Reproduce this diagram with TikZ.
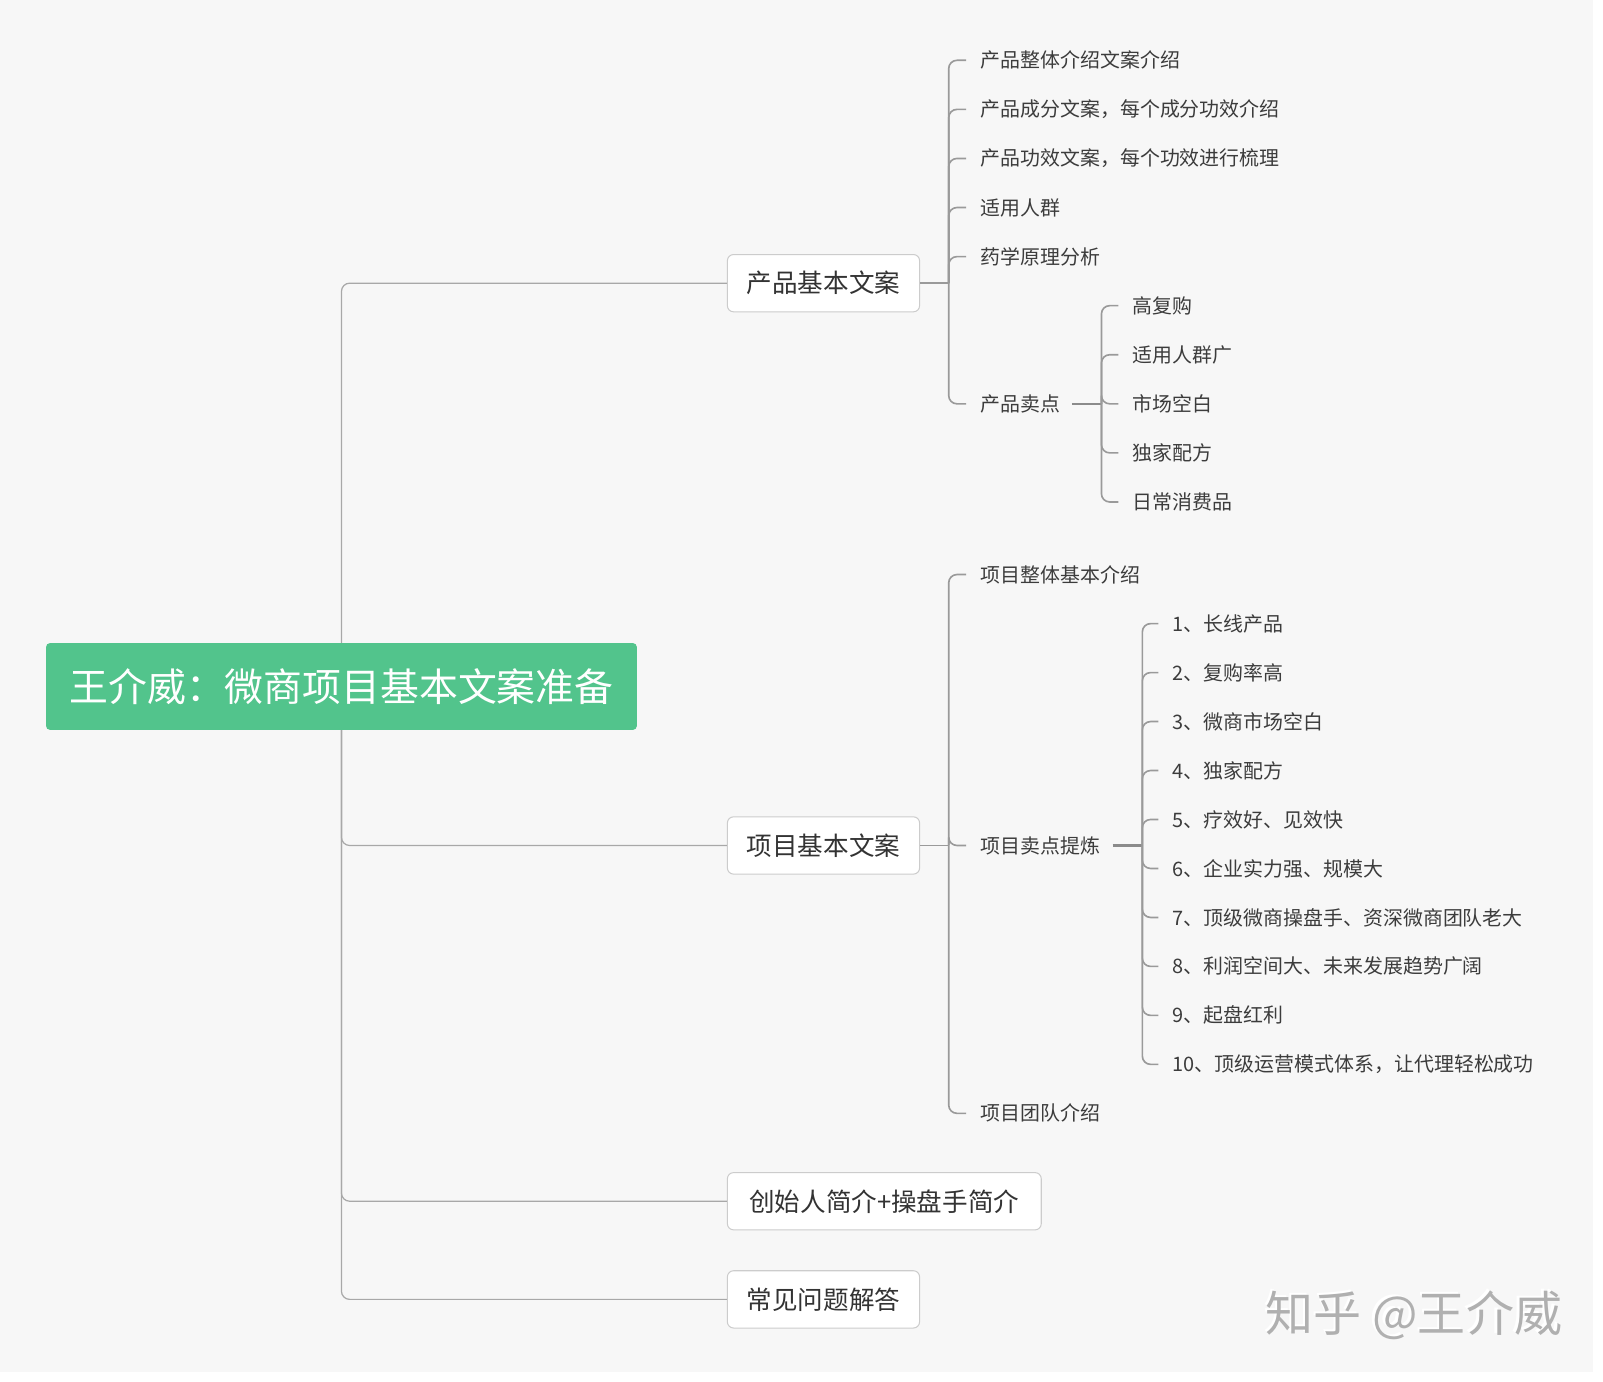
\documentclass[tikz,border=0pt]{standalone}
\usepackage{fontspec}
\newfontfamily\cjk{Noto Sans CJK SC}
\usetikzlibrary{calc}

\definecolor{bgc}{HTML}{F7F7F7}
\definecolor{rootc}{HTML}{52C48C}
\definecolor{linec}{HTML}{A8A8A8}
\definecolor{branchc}{HTML}{9A9A9A}
\definecolor{boxline}{HTML}{CCCCCC}
\definecolor{txtc}{HTML}{333333}
\definecolor{leafc}{HTML}{3C3C3C}
\definecolor{wmc}{HTML}{B0B0B0}

\tikzset{
  rootbox/.style={fill=rootc, text=white, rounded corners=4pt, minimum width=578pt, minimum height=85pt, font=\cjk\fontsize{38pt}{44pt}\selectfont},
  topic/.style={draw=boxline, fill=white, line width=1pt, rounded corners=6pt, anchor=west, minimum height=56pt, inner xsep=19pt, text=txtc, font=\cjk\fontsize{25pt}{30pt}\selectfont},
  leaf/.style={anchor=west, inner xsep=14pt, inner ysep=2pt, text=leafc, font=\cjk\fontsize{19.5pt}{23pt}\selectfont},
  trunk/.style={draw=linec, line width=1.2pt, rounded corners=8pt},
  twig/.style={draw=branchc, line width=1.6pt, rounded corners=8pt},
  stem/.style={draw=branchc!90!black, line width=2.4pt},
  wmark/.style={text=wmc, font=\cjk\fontsize{47pt}{52pt}\selectfont},
  wshade/.style={text=white, font=\cjk\fontsize{47pt}{52pt}\selectfont},
}

\begin{document}
\begin{tikzpicture}[x=1pt,y=-1pt]
    % page and canvas
    \fill[white] (0,0) rectangle (1568,1351);
    \fill[bgc] (0,0) rectangle (1558,1342);
    \useasboundingbox (0,0) rectangle (1568,1351);

    % root and main topics
    \node[rootbox] (root) at (334,671.5) {王介威：微商项目基本文案准备};
    \node[topic] (pb) at (711,277) {产品基本文案};
    \node[topic] (xb) at (711,827) {项目基本文案};
    \node[topic, minimum width=307pt] (cs) at (711,1175) {创始人简介+操盘手简介};
    \node[topic] (wd) at (711,1271) {常见问题解答};

    \draw[trunk] (root.north) |- (pb.west);
    \foreach \n in {xb, cs, wd}
      \draw[trunk] (root.south) |- (\n.west);

    % product copy
    \foreach \t [count=\i] in {产品整体介绍文案介绍, 产品成分文案，每个成分功效介绍, 产品功效文案，每个功效进行梳理, 适用人群, 药学原理分析}
      \node[leaf] (p\i) at (945,{11+48*\i}) {\t};
    \node[leaf] (pm) at (945,395) {产品卖点};

    \coordinate (jp) at ($(pb.east)+(28,0)$);
    \draw[twig] (pb.east) -- (jp);
    \foreach \i in {1,...,5}
      \draw[twig] (jp) |- (p\i.west);
    \draw[twig] (jp) |- (pm.west);

    \coordinate (jm) at ($(pm.east)+(26,0)$);
    \draw[stem] ($(pm.east)+(-3,0)$) -- (jm);
    \foreach \t [count=\i] in {高复购, 适用人群广, 市场空白, 独家配方, 日常消费品} {
      \node[leaf] (m\i) at (1094,{251+48*\i}) {\t};
      \draw[twig] (jm) |- (m\i.west);
    }

    % project copy
    \foreach \t/\y [count=\i] in {项目整体基本介绍/562, 项目卖点提炼/827, 项目团队介绍/1089}
      \node[leaf] (x\i) at (945,\y) {\t};

    \coordinate (jx) at ($(xb.east)+(28,0)$);
    \draw[twig] (xb.east) -- (jx);
    \foreach \i in {1,2,3}
      \draw[twig] (jx) |- (x\i.west);

    \coordinate (js) at ($(x2.east)+(27,0)$);
    \draw[stem] ($(x2.east)+(-2,0)$) -- (js);
    \foreach \t [count=\i] in {1、长线产品, 2、复购率高, 3、微商市场空白, 4、独家配方, 5、疗效好、见效快, 6、企业实力强、规模大, 7、顶级微商操盘手、资深微商团队老大, 8、利润空间大、未来发展趋势广阔, 9、起盘红利, 10、顶级运营模式体系，让代理轻松成功} {
      \node[leaf] (s\i) at (1133,{562.1+47.9*\i}) {\t};
      \draw[twig] (js) |- (s\i.west);
    }

    % watermark
    \node[wshade] (wm0) at (1380.5,1284.5) {知乎 @王介威};
    \node[wmark] (wm) at (1383,1287) {知乎 @王介威};
\end{tikzpicture}
\end{document}
